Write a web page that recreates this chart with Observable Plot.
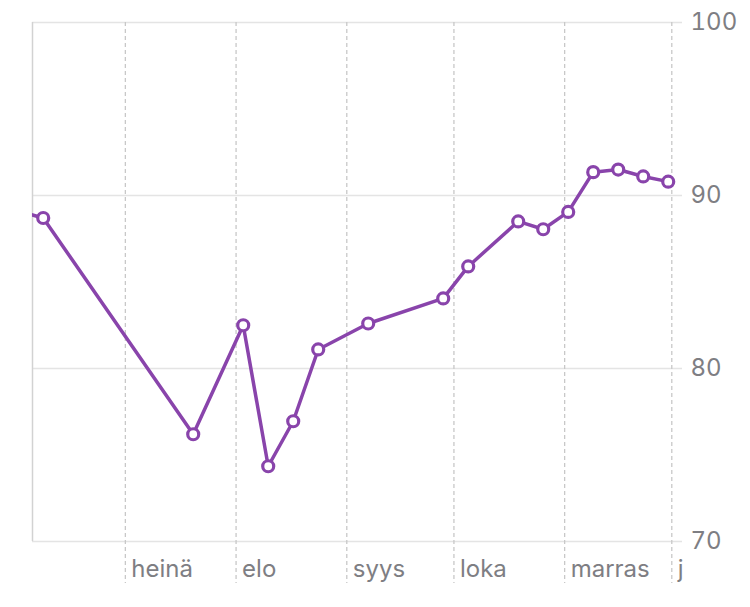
<!DOCTYPE html>
<html>
<head>
<meta charset="utf-8">
<script src="https://cdn.jsdelivr.net/npm/d3@7"></script>
<script src="https://cdn.jsdelivr.net/npm/@observablehq/plot@0.6"></script>
<style>
  html, body { margin: 0; padding: 0; background: #fff; }
</style>
</head>
<body>
<div id="chart"></div>
<script>
// Data
const dates = ["2023-06-01","2023-06-08","2023-07-20","2023-08-03","2023-08-10","2023-08-17","2023-08-24","2023-09-07","2023-09-28","2023-10-05","2023-10-19","2023-10-26","2023-11-02","2023-11-09","2023-11-16","2023-11-23","2023-11-30"];
const values = [89.1, 88.7, 76.2, 82.5, 74.35, 76.95, 81.1, 82.6, 84.05, 85.9, 88.5, 88.05, 89.05, 91.35, 91.5, 91.1, 90.8];

const monthStarts = ["2023-07-01","2023-08-01","2023-09-01","2023-10-01","2023-11-01","2023-12-01"];
const monthLabels = ["heinä","elo","syys","loka","marras","j"];

const xDomain = ["2023-06-05","2023-12-04"];
const yDomain = [70, 100];
const yTicks = [70, 80, 90, 100];

const data = dates.map((d, i) => ({date: new Date(d), value: values[i]}));
const months = monthStarts.map(d => new Date(d));
const xd = xDomain.map(d => new Date(d));

const purple = "#8944ab";
const gray = "#7e7e83";

const chart = Plot.plot({
  width: 750,
  height: 607,
  marginLeft: 32,
  marginRight: 68,
  marginTop: 22,
  marginBottom: 66,
  style: {fontFamily: "Inter, Roboto, sans-serif", fontSize: "24px", color: gray, background: "#fff"},
  x: {type: "utc", domain: xd, axis: null},
  y: {domain: yDomain, axis: null},
  marks: [
    Plot.gridY(yTicks, {stroke: "#e4e4e4", strokeOpacity: 1, strokeWidth: 1.5}),
    Plot.ruleX(months, {x: d => d, stroke: "#c8c8c8", strokeWidth: 1.3, strokeDasharray: "4,3", insetBottom: -42}),
    Plot.ruleX([xd[0]], {x: d => d, stroke: "#d2d2d2", strokeWidth: 1.5}),
    Plot.axisY(yTicks, {anchor: "right", tickSize: 0, tickPadding: 8, label: null, fontSize: 24, fill: gray}),
    Plot.text(months, {x: d => d, text: (d, i) => monthLabels[i], frameAnchor: "bottom", textAnchor: "start", dx: 6, dy: 35, fill: gray, fontSize: 24}),
    Plot.line(data, {x: "date", y: "value", stroke: purple, strokeWidth: 3.5, clip: true}),
    Plot.dot(data, {x: "date", y: "value", r: 5.5, fill: "white", stroke: purple, strokeWidth: 3.2, clip: true})
  ]
});
document.getElementById("chart").append(chart);
</script>
</body>
</html>
